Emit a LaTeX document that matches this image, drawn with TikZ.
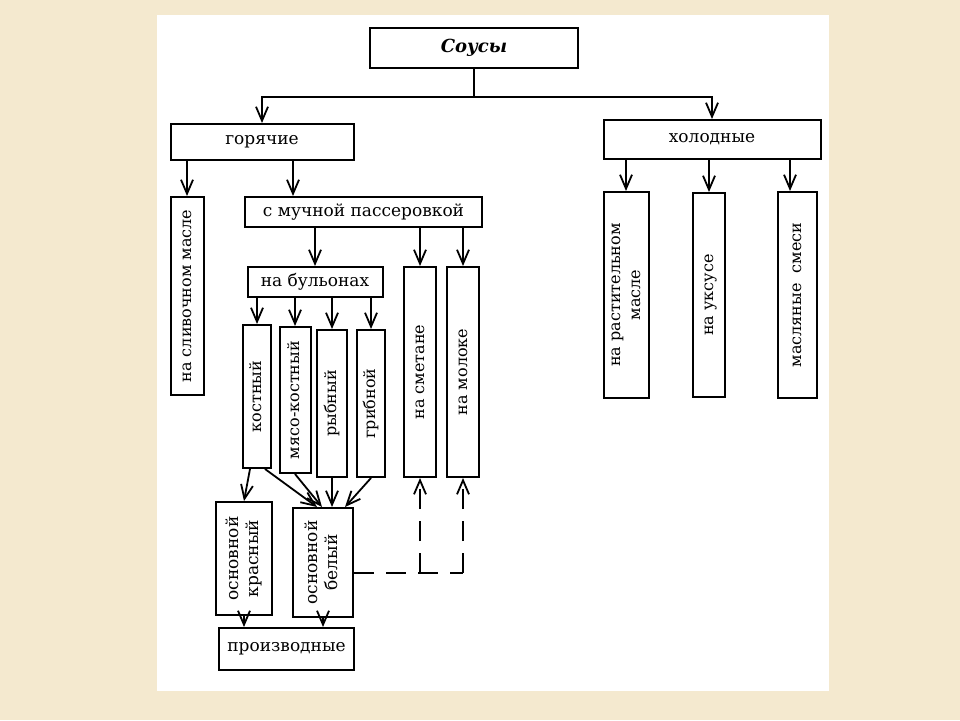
\documentclass[tikz,border=0pt]{standalone}
\usepackage{fontspec}
\setmainfont{DejaVu Serif}
\usetikzlibrary{calc,arrows.meta}
\definecolor{paper}{RGB}{244,233,207}
\newcommand{\vlabel}[1]{\rotatebox{90}{\begin{tabular}{@{}c@{}}#1\end{tabular}}}

\begin{document}
\begin{tikzpicture}[x=1pt,y=-1pt,box/.style={draw,line width=2pt,inner sep=0pt,font=\fontsize{17}{20}\selectfont},vbox/.style={box,font=\fontsize{16}{20}\selectfont},arrow/.style={-{Straight Barb[length=14pt,width=12pt]},line width=1.8pt},dashline/.style={line width=1.8pt,dash pattern=on 20pt off 12pt}]
  \fill[paper] (0,0) rectangle (960,720);
  \fill[white] (157,15) rectangle (829,691);
  % top levels
  \node[box,minimum width=208,minimum height=40,font=\bfseries\itshape\fontsize{18}{22}\selectfont] (sauces) at (474,48) {Соусы};
  \coordinate (fork) at (474,97);
  \node[box,minimum width=183,minimum height=36] (hot) at (262,142) {горячие};
  \node[box,minimum width=217,minimum height=39] (cold) at (712,139.5) {холодные};
  % hot branch
  \node[vbox,minimum width=33,minimum height=198] (butter) at (187,296) {\vlabel{на сливочном масле}};
  \node[box,minimum width=237,minimum height=30] (flour) at (363.5,212) {с мучной пассеровкой};
  \node[box,minimum width=135,minimum height=30] (broth) at (315,282) {на бульонах};
  \node[vbox,minimum width=32,minimum height=210] (sourcream) at (420,372) {\vlabel{на сметане}};
  \node[vbox,minimum width=32,minimum height=210] (milk) at (463,372) {\vlabel{на молоке}};
  \node[vbox,minimum width=28,minimum height=143] (kost) at (257,396.5) {\vlabel{костный}};
  \node[vbox,minimum width=31,minimum height=146] (meat) at (295,400) {\vlabel{мясо-костный}};
  \node[vbox,minimum width=30,minimum height=147] (fish) at (332,403.5) {\vlabel{рыбный}};
  \node[vbox,minimum width=28,minimum height=147] (mush) at (371,403.5) {\vlabel{грибной}};
  \node[box,minimum width=56,minimum height=113] (red) at (244,558.5) {\vlabel{основной\\красный}};
  \node[box,minimum width=60,minimum height=109] (white) at (323,562.5) {\vlabel{основной\\белый}};
  \node[box,minimum width=135,minimum height=42] (deriv) at (286.5,649) {производные};
  % cold branch
  \node[vbox,minimum width=45,minimum height=206] (veg) at (626,295) {\vlabel{на растительном\\масле}};
  \node[vbox,minimum width=32,minimum height=204] (vinegar) at (709,295) {\vlabel{на уксусе}};
  \node[vbox,minimum width=39,minimum height=206] (mixes) at (797,295) {\vlabel{масляные\ \ смеси}};
  % connectors
  \draw[line width=1.8pt] (sauces) -- (fork);
  \draw[arrow] (fork) -| (hot);
  \draw[arrow] (fork) -| (cold);
  \draw[arrow] (hot.south -| butter) -- (butter);
  \draw[arrow] ([xshift=31pt]hot.south) -- ([xshift=31pt]hot.south |- flour.north);
  \draw[arrow] (flour.south -| broth) -- (broth);
  \draw[arrow] (flour.south -| sourcream) -- (sourcream);
  \draw[arrow] (flour.south -| milk) -- (milk);
  \draw[arrow] (broth.south -| kost) -- (kost);
  \draw[arrow] (broth.south -| meat) -- (meat);
  \draw[arrow] (broth.south -| fish) -- (fish);
  \draw[arrow] (broth.south -| mush) -- (mush);
  \draw[arrow] ([xshift=-7pt]kost.south) -- (red.north);
  \draw[arrow] ([xshift=8pt]kost.south) -- ([xshift=-6pt]white.north);
  \draw[arrow] (meat.south) -- ([xshift=-1pt]white.north);
  \draw[arrow] (fish.south) -- (fish.south |- white.north);
  \draw[arrow] (mush.south) -- ([xshift=22pt]white.north);
  \draw[arrow] (red) -- (red.south |- deriv.north);
  \draw[arrow] (white) -- (white.south |- deriv.north);
  \coordinate (dsour) at (420,573);
  \coordinate (dmilk) at (463,573);
  \draw[dashline] (white.east |- dmilk) -- (dmilk);
  \draw[dashline,arrow] (dsour) -- (sourcream);
  \draw[dashline,arrow] (dmilk) -- (milk);
  \draw[arrow] (cold.south -| veg) -- (veg);
  \draw[arrow] (cold.south -| vinegar) -- (vinegar);
  \draw[arrow] ([xshift=-7pt]cold.south -| mixes) -- ([xshift=-7pt]mixes.north);
\end{tikzpicture}
\end{document}
